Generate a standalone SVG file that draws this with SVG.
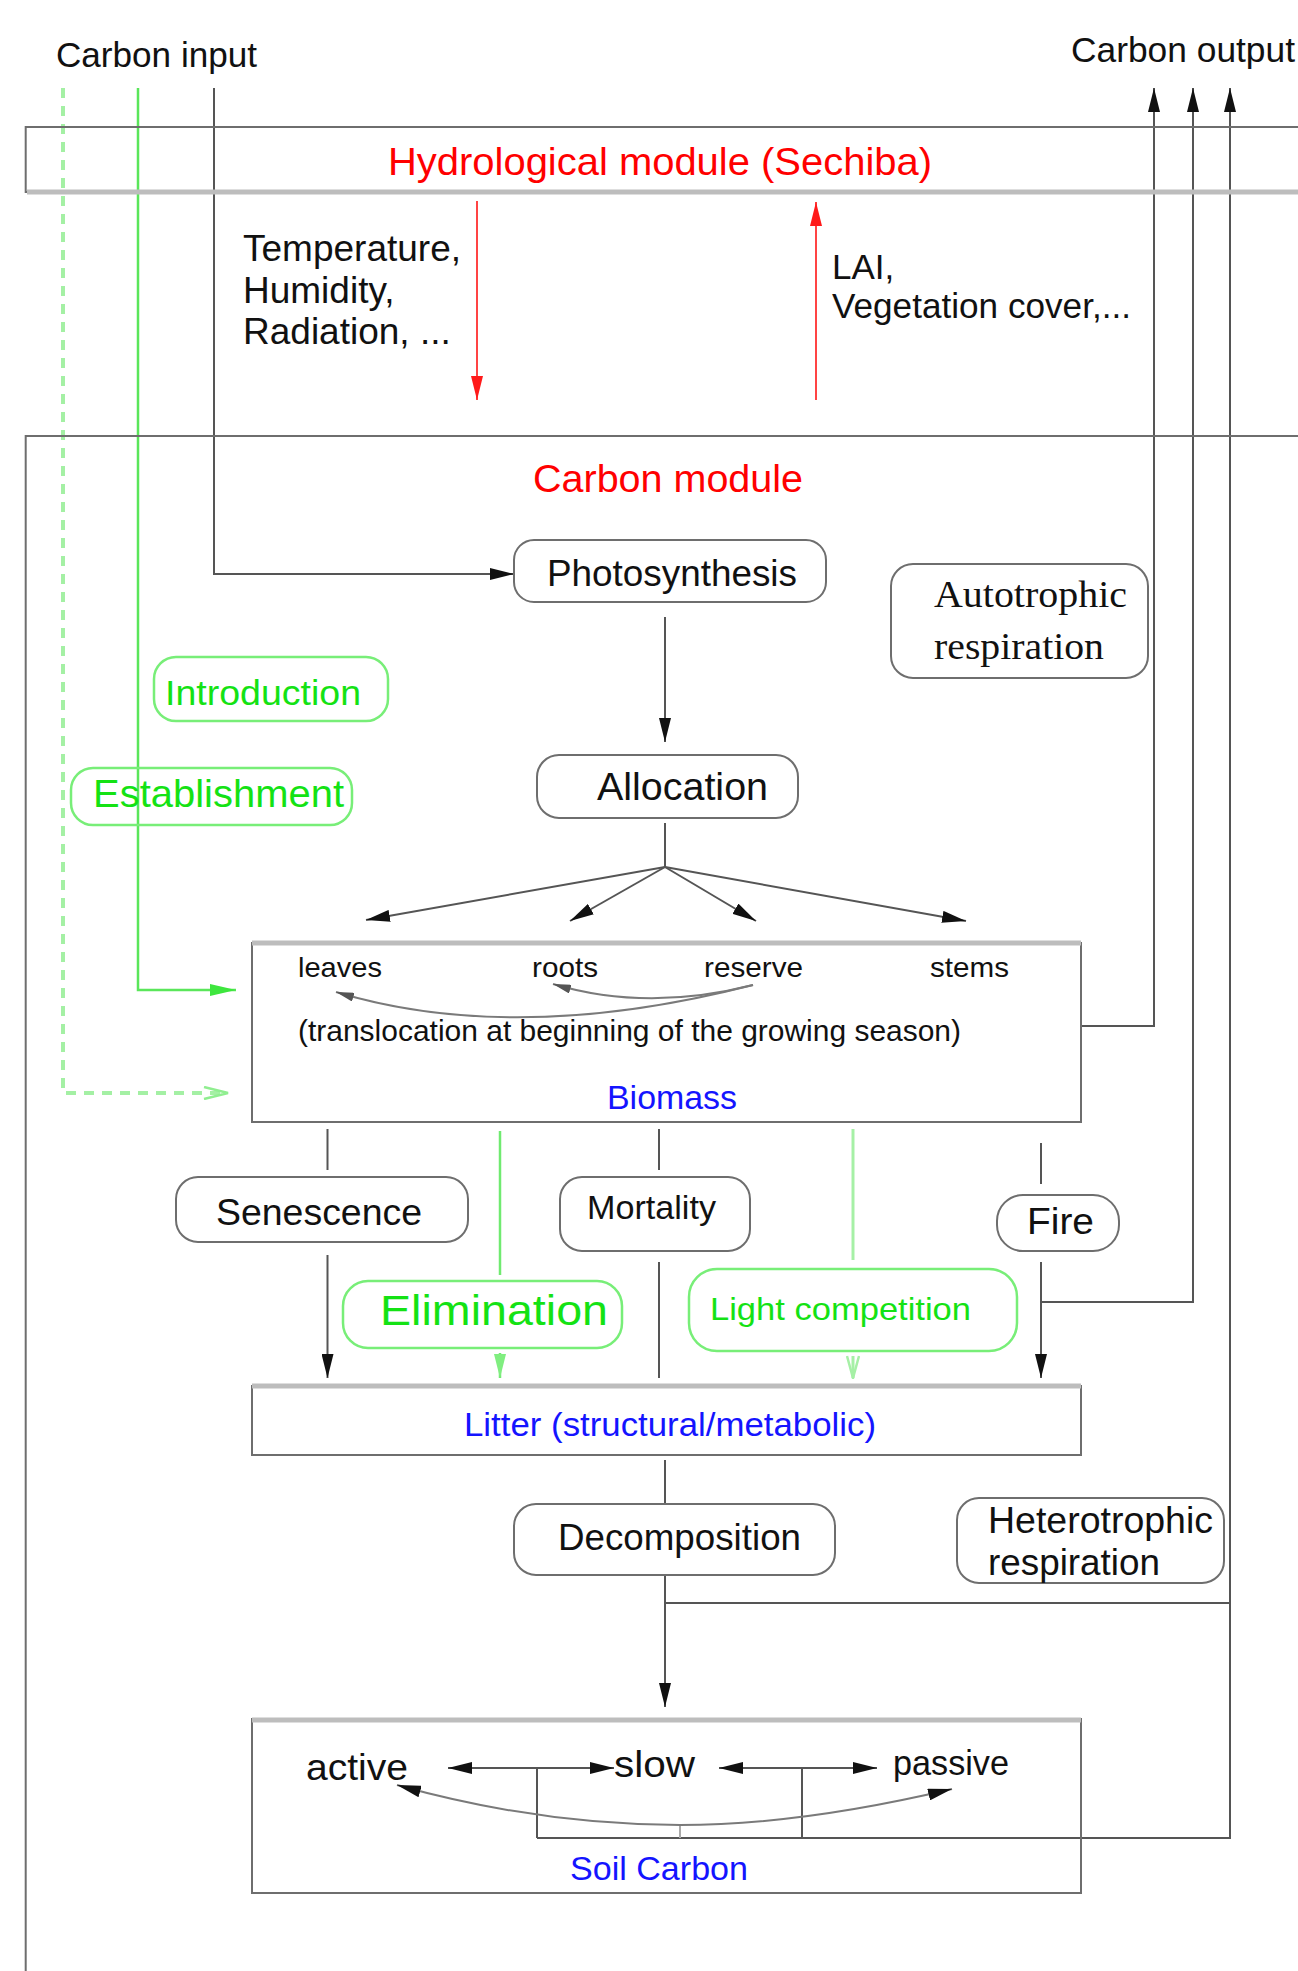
<svg xmlns="http://www.w3.org/2000/svg" width="1298" height="1971" viewBox="0 0 1298 1971">
<defs>
<style>
text { font-family: "Liberation Sans", Arial, sans-serif; fill:#111; }
.red { fill:#ff0000; }
.blue { fill:#1414ff; }
.grn { fill:#14e214; }
.serif { font-family: "Liberation Serif", "Times New Roman", serif; }
.box { fill:none; stroke:#6e6e6e; stroke-width:2; }
.gbox { fill:none; stroke:#78ee78; stroke-width:2.5; }
.edge { fill:none; stroke:#bdbdbd; stroke-width:5; }
.ln { fill:none; stroke:#555; stroke-width:2; }
.lnred { fill:none; stroke:#ff4444; stroke-width:2; }
.lngreen { fill:none; stroke:#5ae65a; stroke-width:2.5; }
.lnlight { fill:none; stroke:#a6f0a6; stroke-width:3; }
.lndash { fill:none; stroke:#a4f0a4; stroke-width:4; stroke-dasharray:10 8; }
.lncurve { fill:none; stroke:#7a7a7a; stroke-width:2; }
</style>
<marker id="ah" markerUnits="userSpaceOnUse" markerWidth="24" markerHeight="12" viewBox="0 0 24 12" refX="24" refY="6" orient="auto"><path d="M0,0 L24,6 L0,12 z" fill="#111"/></marker>
<marker id="ahR" markerUnits="userSpaceOnUse" markerWidth="24" markerHeight="12" viewBox="0 0 24 12" refX="24" refY="6" orient="auto"><path d="M0,0 L24,6 L0,12 z" fill="#ff1a1a"/></marker>
<marker id="ahG" markerUnits="userSpaceOnUse" markerWidth="26" markerHeight="12" viewBox="0 0 26 12" refX="26" refY="6" orient="auto"><path d="M0,0 L26,6 L0,12 z" fill="#3ee63e"/></marker>
<marker id="ahGl" markerUnits="userSpaceOnUse" markerWidth="24" markerHeight="12" viewBox="0 0 24 12" refX="24" refY="6" orient="auto"><path d="M0,0 L24,6 L0,12 z" fill="#80ee80"/></marker>
<marker id="ahGo" markerUnits="userSpaceOnUse" markerWidth="26" markerHeight="14" viewBox="0 0 26 14" refX="25" refY="7" orient="auto"><path d="M1,1 L25,7 L1,13" fill="none" stroke="#90ee90" stroke-width="2.5"/></marker>
<marker id="ahV" markerUnits="userSpaceOnUse" markerWidth="24" markerHeight="14" viewBox="0 0 24 14" refX="23" refY="7" orient="auto"><path d="M1,1 L23,7 L1,13" fill="none" stroke="#a6f0a6" stroke-width="2.5"/></marker>
<marker id="ahS" markerUnits="userSpaceOnUse" markerWidth="18" markerHeight="9" viewBox="0 0 18 9" refX="18" refY="4.5" orient="auto"><path d="M0,0 L18,4.5 L0,9 z" fill="#555"/></marker>
</defs>

<g id="connectors">
  <path class="ln" d="M214,88 V574 H514" marker-end="url(#ah)"/>
  <path class="lngreen" d="M138,88 V990 H236" marker-end="url(#ahG)"/>
  <path class="lndash" d="M63,88 V1093 H228" marker-end="url(#ahGo)"/>
  <line class="lnred" x1="477" y1="201" x2="477" y2="400" marker-end="url(#ahR)"/>
  <line class="lnred" x1="816" y1="400" x2="816" y2="202" marker-end="url(#ahR)"/>
  <line class="ln" x1="665" y1="617" x2="665" y2="742" marker-end="url(#ah)"/>
  <line class="ln" x1="665" y1="823" x2="665" y2="867"/>
  <line class="ln" x1="665" y1="867" x2="366" y2="920" marker-end="url(#ah)"/>
  <line class="ln" x1="665" y1="867" x2="570" y2="921" marker-end="url(#ah)"/>
  <line class="ln" x1="665" y1="867" x2="756" y2="921" marker-end="url(#ah)"/>
  <line class="ln" x1="665" y1="867" x2="966" y2="921" marker-end="url(#ah)"/>
  <path class="lncurve" d="M753,985 Q515,1046 336,992" marker-end="url(#ahS)"/>
  <path class="lncurve" d="M753,985 Q647,1012 553,984" marker-end="url(#ahS)"/>
  <path class="ln" d="M1081,1026 H1154 V88" marker-end="url(#ah)"/>
  <path class="ln" d="M1041,1302 H1193 V88" marker-end="url(#ah)"/>
  <path class="ln" d="M665,1603 H1230"/>
  <path class="ln" d="M537,1838 H1230 V88" marker-end="url(#ah)"/>
  <line class="ln" x1="327.5" y1="1129" x2="327.5" y2="1170"/>
  <line class="ln" x1="327.5" y1="1255" x2="327.5" y2="1378" marker-end="url(#ah)"/>
  <line class="lngreen" x1="500" y1="1131" x2="500" y2="1275" style="stroke:#70ea70"/>
  <line class="lngreen" x1="500" y1="1353" x2="500" y2="1378" style="stroke:#70ea70" marker-end="url(#ahGl)"/>
  <line class="ln" x1="659" y1="1129" x2="659" y2="1170"/>
  <line class="ln" x1="659" y1="1262" x2="659" y2="1378"/>
  <line class="lnlight" x1="853" y1="1129" x2="853" y2="1260"/>
  <line class="lnlight" x1="853" y1="1356" x2="853" y2="1378" marker-end="url(#ahV)"/>
  <line class="ln" x1="1041" y1="1143" x2="1041" y2="1184"/>
  <line class="ln" x1="1041" y1="1262" x2="1041" y2="1378" marker-end="url(#ah)"/>
  <line class="ln" x1="665" y1="1460" x2="665" y2="1504"/>
  <line class="ln" x1="665" y1="1575" x2="665" y2="1707" marker-end="url(#ah)"/>
  <line class="ln" x1="537" y1="1768" x2="448" y2="1768" marker-end="url(#ah)"/>
  <line class="ln" x1="537" y1="1768" x2="614" y2="1768" marker-end="url(#ah)"/>
  <line class="ln" x1="537" y1="1768" x2="537" y2="1838"/>
  <line class="ln" x1="802" y1="1768" x2="719" y2="1768" marker-end="url(#ah)"/>
  <line class="ln" x1="802" y1="1768" x2="877" y2="1768" marker-end="url(#ah)"/>
  <line class="ln" x1="802" y1="1768" x2="802" y2="1838"/>
  <line class="lncurve" x1="680" y1="1825" x2="680" y2="1838" style="stroke:#aaa"/>
  <path class="lncurve" d="M680,1825 Q540,1825 397,1785" marker-end="url(#ah)"/>
  <path class="lncurve" d="M680,1825 Q800,1825 952,1789" marker-end="url(#ah)"/>
</g>

<g id="carbon-input">
  <text x="56" y="67" font-size="35" textLength="201" lengthAdjust="spacingAndGlyphs">Carbon input</text>
</g>
<g id="carbon-output">
  <text x="1071" y="62" font-size="35" textLength="224" lengthAdjust="spacingAndGlyphs">Carbon output</text>
</g>

<g id="hydrological-module">
  <path class="box" d="M1310,127 H25.7 V192 H1310"/>
  <line class="edge" x1="27" y1="192" x2="1310" y2="192"/>
  <text class="red" x="388" y="175" font-size="39" textLength="544" lengthAdjust="spacingAndGlyphs">Hydrological module (Sechiba)</text>
</g>

<g id="climate-forcing">
  <text x="243" y="261" font-size="37">Temperature,</text>
  <text x="243" y="303" font-size="37">Humidity,</text>
  <text x="243" y="344" font-size="37">Radiation, ...</text>
</g>
<g id="vegetation-feedback">
  <text x="832" y="279" font-size="35">LAI,</text>
  <text x="832" y="318" font-size="35" textLength="299" lengthAdjust="spacingAndGlyphs">Vegetation cover,...</text>
</g>

<g id="carbon-module">
  <path class="box" d="M25.7,1975 V436 H1310"/>
  <text class="red" x="533" y="492" font-size="38" textLength="270" lengthAdjust="spacingAndGlyphs">Carbon module</text>
</g>

<g id="photosynthesis">
  <rect class="box" x="514" y="540" width="312" height="62" rx="20"/>
  <text x="547" y="586" font-size="36" textLength="250" lengthAdjust="spacingAndGlyphs">Photosynthesis</text>
</g>
<g id="autotrophic-respiration">
  <rect class="box" x="891" y="564" width="257" height="114" rx="22"/>
  <text class="serif" x="934" y="607" font-size="38" textLength="193" lengthAdjust="spacingAndGlyphs">Autotrophic</text>
  <text class="serif" x="934" y="659" font-size="38" textLength="170" lengthAdjust="spacingAndGlyphs">respiration</text>
</g>
<g id="introduction">
  <rect class="gbox" x="154" y="657" width="234" height="64" rx="22"/>
  <text class="grn" x="165" y="705" font-size="35" textLength="196" lengthAdjust="spacingAndGlyphs">Introduction</text>
</g>
<g id="establishment">
  <rect class="gbox" x="71" y="768" width="281" height="57" rx="22"/>
  <text class="grn" x="93" y="807" font-size="39" textLength="251" lengthAdjust="spacingAndGlyphs">Establishment</text>
</g>
<g id="allocation">
  <rect class="box" x="537" y="755" width="261" height="63" rx="22"/>
  <text x="597" y="800" font-size="38" textLength="171" lengthAdjust="spacingAndGlyphs">Allocation</text>
</g>

<g id="biomass">
  <rect class="box" x="252" y="943" width="829" height="179"/>
  <line class="edge" x1="252" y1="943" x2="1081" y2="943"/>
  <text x="298" y="977" font-size="28" textLength="84" lengthAdjust="spacingAndGlyphs">leaves</text>
  <text x="532" y="977" font-size="28" textLength="66" lengthAdjust="spacingAndGlyphs">roots</text>
  <text x="704" y="977" font-size="28" textLength="99" lengthAdjust="spacingAndGlyphs">reserve</text>
  <text x="930" y="977" font-size="28" textLength="79" lengthAdjust="spacingAndGlyphs">stems</text>
  <text x="298" y="1041" font-size="29" textLength="663" lengthAdjust="spacingAndGlyphs">(translocation at beginning of the growing season)</text>
  <text class="blue" x="607" y="1109" font-size="33" textLength="130" lengthAdjust="spacingAndGlyphs">Biomass</text>
</g>

<g id="senescence">
  <rect class="box" x="176" y="1177" width="292" height="65" rx="22"/>
  <text x="216" y="1225" font-size="36" textLength="206" lengthAdjust="spacingAndGlyphs">Senescence</text>
</g>
<g id="mortality">
  <rect class="box" x="560" y="1177" width="190" height="74" rx="22"/>
  <text x="587" y="1219" font-size="34" textLength="129" lengthAdjust="spacingAndGlyphs">Mortality</text>
</g>
<g id="fire">
  <rect class="box" x="997" y="1195" width="122" height="56" rx="26"/>
  <text x="1027" y="1234" font-size="37" textLength="67" lengthAdjust="spacingAndGlyphs">Fire</text>
</g>
<g id="elimination">
  <rect class="gbox" x="343" y="1281" width="279" height="67" rx="25"/>
  <text class="grn" x="380" y="1325" font-size="42" textLength="228" lengthAdjust="spacingAndGlyphs">Elimination</text>
</g>
<g id="light-competition">
  <rect class="gbox" x="689" y="1269" width="328" height="82" rx="28"/>
  <text class="grn" x="710" y="1320" font-size="32" textLength="261" lengthAdjust="spacingAndGlyphs">Light competition</text>
</g>

<g id="litter">
  <rect class="box" x="252" y="1386" width="829" height="69"/>
  <line class="edge" x1="252" y1="1386" x2="1081" y2="1386"/>
  <text class="blue" x="464" y="1436" font-size="34" textLength="412" lengthAdjust="spacingAndGlyphs">Litter (structural/metabolic)</text>
</g>

<g id="decomposition">
  <rect class="box" x="514" y="1504" width="321" height="71" rx="22"/>
  <text x="558" y="1550" font-size="36" textLength="243" lengthAdjust="spacingAndGlyphs">Decomposition</text>
</g>
<g id="heterotrophic-respiration">
  <rect class="box" x="957" y="1498" width="267" height="85" rx="22"/>
  <text x="988" y="1533" font-size="36" textLength="225" lengthAdjust="spacingAndGlyphs">Heterotrophic</text>
  <text x="988" y="1575" font-size="36" textLength="172" lengthAdjust="spacingAndGlyphs">respiration</text>
</g>

<g id="soil-carbon">
  <rect class="box" x="252" y="1719" width="829" height="174"/>
  <line class="edge" x1="252" y1="1720" x2="1081" y2="1720"/>
  <text x="306" y="1780" font-size="36" textLength="102" lengthAdjust="spacingAndGlyphs">active</text>
  <text x="614" y="1777" font-size="36" textLength="81" lengthAdjust="spacingAndGlyphs">slow</text>
  <text x="893" y="1775" font-size="35" textLength="116" lengthAdjust="spacingAndGlyphs">passive</text>
  <text class="blue" x="570" y="1880" font-size="33" textLength="178" lengthAdjust="spacingAndGlyphs">Soil Carbon</text>
</g>
</svg>
